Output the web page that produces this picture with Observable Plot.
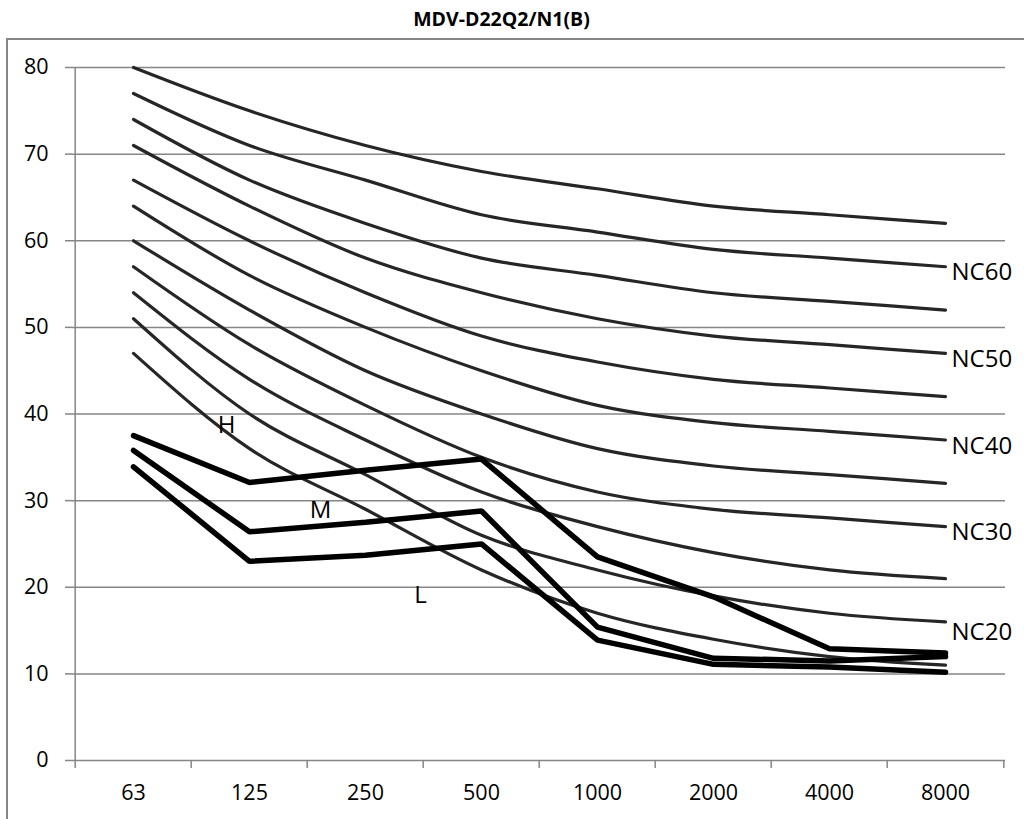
<!DOCTYPE html>
<html>
<head>
<meta charset="utf-8">
<script src="https://cdn.jsdelivr.net/npm/d3@7"></script>
<script src="https://cdn.jsdelivr.net/npm/@observablehq/plot@0.6"></script>
<style>
  html, body { margin: 0; padding: 0; width: 1024px; height: 819px; overflow: hidden; background: #fff; }
  #wrap { position: relative; width: 1024px; height: 819px; }
  #title { position: absolute; left: 0; width: 1003px; top: 8.8px; text-align: center; font-family: 'Open Sans', sans-serif; font-weight: bold; font-size: 19.5px; line-height: 19.5px; color: #000; }
  #border { position: absolute; left: 6px; top: 38px; width: 1100px; height: 900px; border: 2px solid #868686; box-sizing: border-box; pointer-events: none; }
  #chart { position: absolute; left: 0; top: 0; }
</style>
</head>
<body>
<div id="wrap">
  <div id="border"></div>
  <div id="title">MDV-D22Q2/N1(B)</div>
  <div id="chart"></div>
</div>
<script>
// ---- data ----
const freqs = ["63", "125", "250", "500", "1000", "2000", "4000", "8000"];
const yTicks = [0, 10, 20, 30, 40, 50, 60, 70, 80];

const ncNames = ["NC15", "NC20", "NC25", "NC30", "NC35", "NC40", "NC45", "NC50", "NC55", "NC60", "NC65"];
const nc15 = [47, 36, 29, 22, 17, 14, 12, 11];
const nc20 = [51, 40, 33, 26, 22, 19, 17, 16];
const nc25 = [54, 44, 37, 31, 27, 24, 22, 21];
const nc30 = [57, 48, 41, 35, 31, 29, 28, 27];
const nc35 = [60, 52, 45, 40, 36, 34, 33, 32];
const nc40 = [64, 56, 50, 45, 41, 39, 38, 37];
const nc45 = [67, 60, 54, 49, 46, 44, 43, 42];
const nc50 = [71, 64, 58, 54, 51, 49, 48, 47];
const nc55 = [74, 67, 62, 58, 56, 54, 53, 52];
const nc60 = [77, 71, 67, 63, 61, 59, 58, 57];
const nc65 = [80, 75, 71, 68, 66, 64, 63, 62];
const ncSeries = [nc15, nc20, nc25, nc30, nc35, nc40, nc45, nc50, nc55, nc60, nc65];

const modeNames = ["H", "M", "L"];
const modeH = [37.5, 32.1, 33.5, 34.8, 23.5, 18.9, 12.9, 12.4];
const modeM = [35.8, 26.4, 27.5, 28.8, 15.4, 11.8, 11.5, 12.0];
const modeL = [33.9, 23.0, 23.7, 25.0, 13.9, 11.1, 10.8, 10.2];
const modeSeries = [modeH, modeM, modeL];

const ncLabelNames = ["NC60", "NC50", "NC40", "NC30"];
const ncLabelLow = ["NC20"];
// label anchors for H / M / L (category, value)
const labelH = [{t: "H", f: "125", v: 38.7}];
const labelM = [{t: "M", f: "125", v: 28.9}];
const labelL = [{t: "L", f: "250", v: 19.05}];

// ---- tables ----
const ncRows = ncSeries.flatMap((s, i) => s.map((v, j) => ({name: ncNames[i], f: freqs[j], v})));
const modeRows = modeSeries.flatMap((s, i) => s.map((v, j) => ({name: modeNames[i], f: freqs[j], v})));
const lastOf = n => ({t: n, f: freqs[freqs.length - 1], v: ncSeries[ncNames.indexOf(n)][freqs.length - 1]});
const ncLab = ncLabelNames.map(lastOf);
const ncLabLow = ncLabelLow.map(lastOf);

// ---- layout ----
const W = 1024, H = 819, ML = 72, MR = 19, MT = 67, MB = 59;
const step = (W - ML - MR) / freqs.length;
const gray = "#868686";

const chart = Plot.plot({
  width: W, height: H,
  marginLeft: ML, marginRight: MR, marginTop: MT, marginBottom: MB,
  style: {fontFamily: "'Open Sans', sans-serif", fontSize: "21.5px", background: "transparent", overflow: "visible", color: "#000"},
  x: {type: "point", domain: freqs, padding: 0.5, align: 0.5, label: null},
  y: {domain: [0, 80], label: null},
  marks: [
    Plot.ruleY(yTicks.filter(d => d > 0), {stroke: gray, strokeWidth: 1.5}),
    Plot.ruleY([0], {stroke: gray, strokeWidth: 1.5}),
    Plot.ruleX([freqs[0]], {x: d => d, dx: -step / 2, stroke: gray, strokeWidth: 1.5}),
    Plot.ruleX(freqs, {x: d => d, y1: 0, y2: 0, insetBottom: -8, dx: -step / 2, stroke: gray, strokeWidth: 1.5}),
    Plot.ruleX([freqs[freqs.length - 1]], {x: d => d, y1: 0, y2: 0, insetBottom: -8, dx: step / 2, stroke: gray, strokeWidth: 1.5}),
    Plot.axisY({ticks: yTicks, tickSize: 7, tickPadding: 17, stroke: gray, strokeWidth: 1.5, color: "#000", fill: "#000", label: null, fontSize: 21.5}),
    Plot.axisX({tickSize: 0, tickPadding: 24, label: null, color: "#000", fill: "#000", fontSize: 21.5}),
    Plot.line(ncRows, {x: "f", y: "v", z: "name", stroke: "#262626", strokeWidth: 3.2, curve: "monotone-x"}),
    Plot.line(modeRows, {x: "f", y: "v", z: "name", stroke: "#000", strokeWidth: 5.5, strokeLinejoin: "miter"}),
    Plot.text(ncLab, {x: "f", y: "v", text: "t", textAnchor: "start", dx: 6, dy: 6, fontSize: 24, fill: "#000"}),
    Plot.text(ncLabLow, {x: "f", y: "v", text: "t", textAnchor: "start", dx: 6, dy: 10, fontSize: 24, fill: "#000"}),
    Plot.text(labelH, {x: "f", y: "v", text: "t", dx: -23, fontSize: 24, fill: "#000"}),
    Plot.text(labelM, {x: "f", y: "v", text: "t", dx: 71, fontSize: 24, fill: "#000"}),
    Plot.text(labelL, {x: "f", y: "v", text: "t", dx: 55, fontSize: 24, fill: "#000"})
  ]
});
document.getElementById("chart").appendChild(chart);
</script>
</body>
</html>
